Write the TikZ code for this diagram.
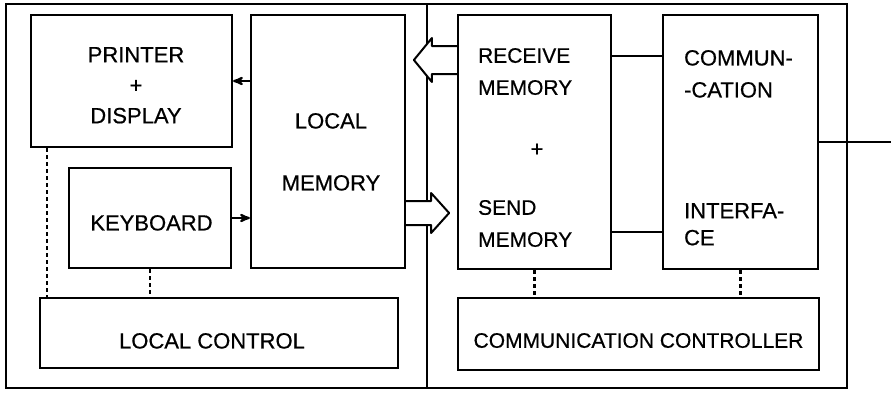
\documentclass[tikz,border=0pt]{standalone}
\usepackage{fontspec}
\setmainfont{Liberation Sans}[FakeBold=0.6]
\usetikzlibrary{arrows}

\begin{document}
\begin{tikzpicture}
[x=1pt,y=-1pt,>=stealth',line width=2.2pt,
  unit/.style={draw,inner sep=0pt},
  lbl/.style={inner sep=0pt,font=\fontsize{22}{30.5}\selectfont},
  dots/.style={dash pattern=on 4pt off 3pt},
  blockarr/.style={fill=white,line width=2pt,line join=round}]
  \useasboundingbox (0,0) rectangle (891,392);
  % the two halves
  \node[unit,minimum width=421pt,minimum height=384pt] (lefthalf) at (216.5,196) {};
  \node[unit,minimum width=420pt,minimum height=384pt] (righthalf) at (637,196) {};
  % local side
  \node[unit,minimum width=201pt,minimum height=132pt] (prtdisp) at (131.5,81) {};
  \node[unit,minimum width=154pt,minimum height=253pt] (locmem) at (328,141.5) {};
  \node[unit,minimum width=162pt,minimum height=100pt] (kbd) at (150,218) {};
  \node[unit,minimum width=358pt,minimum height=70pt] (locctl) at (219,333) {};
  % communication side
  \node[unit,minimum width=153pt,minimum height=254pt] (rsmem) at (534.5,142) {};
  \node[unit,minimum width=155pt,minimum height=254pt] (comif) at (740.5,142) {};
  \node[unit,minimum width=361pt,minimum height=72pt] (comctl) at (638.5,334) {};
  \coordinate (lineout) at (891,142);
  % texts
  \node[lbl,align=center,anchor=north] (prttxt) at (136,46) {PRINTER\\+\\DISPLAY};
  \node[lbl,align=center,anchor=north] (memtxt) at (331,112) {LOCAL\\[31.5pt]MEMORY};
  \node[lbl,anchor=north] (kbdtxt) at (151.5,214) {KEYBOARD};
  \node[lbl,anchor=north] (ctltxt) at (212,332) {LOCAL CONTROL};
  \node[lbl,align=left,anchor=north west,font=\fontsize{21}{32}\selectfont] (recvtxt) at (477,47) {RECEIVE\\MEMORY};
  \node[lbl] (plustxt) at (537,150) {+};
  \node[lbl,align=left,anchor=north west,font=\fontsize{21}{32}\selectfont] (sendtxt) at (477,199) {SEND\\MEMORY};
  \node[lbl,align=left,anchor=north west,font=\fontsize{22}{32}\selectfont] (comtxt) at (683,49) {COMMUN-\\-CATION};
  \node[lbl,align=left,anchor=north west,font=\fontsize{22}{27}\selectfont] (iftxt) at (683,202) {INTERFA-\\CE};
  \node[lbl,anchor=north,font=\fontsize{21}{25}\selectfont] (cctltxt) at (638.5,332) {COMMUNICATION CONTROLLER};
  % connections
  \draw[->] (prtdisp.east -| locmem.west) -- (prtdisp.east);
  \draw[->] (kbd.east) -- (kbd.east -| locmem.west);
  \draw ([yshift=-42pt]rsmem.north east) -- ([yshift=-42pt]comif.north west);
  \draw ([yshift=38pt]rsmem.south east) -- ([yshift=38pt]comif.south west);
  \draw (comif.east) -- (lineout);
  \draw[dots] ([xshift=17pt]prtdisp.south west) coordinate (d1) -- (d1 |- locctl.north);
  \draw[dots] (kbd.south) -- (kbd.south |- locctl.north);
  \draw[dots] (rsmem.south) -- (rsmem.south |- comctl.north);
  \draw[dots] (comif.south) -- (comif.south |- comctl.north);
  % block arrows
  \draw[blockarr] (rsmem.west |- 0,46) -- ++(-25,0) -- ++(0,-8) -- ++(-18,22)
    -- ++(18,22) -- ++(0,-8) -- ++(25,0);
  \draw[blockarr] (locmem.east |- 0,201) -- ++(25,0) -- ++(0,-8) -- ++(18,20)
    -- ++(-18,20) -- ++(0,-8) -- ++(-25,0);
\end{tikzpicture}
\end{document}
